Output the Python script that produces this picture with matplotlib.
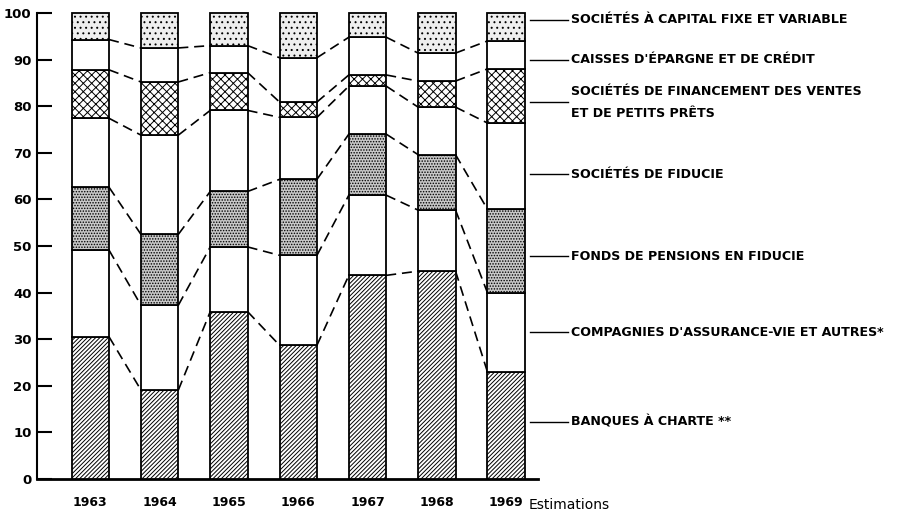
import matplotlib
matplotlib.use("Agg")
import matplotlib.pyplot as plt
import numpy as np

years = ["1963", "1964", "1965", "1966", "1967", "1968", "1969"]
categories = [
    "BANQUES À CHARTE **",
    "COMPAGNIES D'ASSURANCE-VIE ET AUTRES*",
    "FONDS DE PENSIONS EN FIDUCIE",
    "SOCIÉTÉS DE FIDUCIE",
    "SOCIÉTÉS DE FINANCEMENT DES VENTES\nET DE PETITS PRÊTS",
    "CAISSES D'ÉPARGNE ET DE CRÉDIT",
    "SOCIÉTÉS À CAPITAL FIXE ET VARIABLE",
]
banques = [30.5, 19.1, 35.9, 28.7, 43.7, 44.6, 23.0]
assurance = [18.6, 18.2, 13.9, 19.3, 17.2, 13.1, 17.0]
pensions = [13.5, 15.2, 11.9, 16.3, 13.1, 11.9, 17.9]
fiducie = [14.8, 21.3, 17.4, 13.3, 10.3, 10.2, 18.5]
financement = [10.4, 11.4, 8.1, 3.3, 2.4, 5.6, 11.6]
caisses = [6.5, 7.3, 5.8, 9.5, 8.1, 6.0, 6.0]
capital = [5.7, 7.5, 7.0, 9.6, 5.2, 8.6, 6.0]
series = [banques, assurance, pensions, fiducie, financement, caisses, capital]

# label anchor heights (layout)
label_y = [12.2, 31.5, 47.8, 65.4, 80.8, 90.0, 98.6]

styles = [
    dict(facecolor="white", hatch="////////"),
    dict(facecolor="white", hatch=None),
    dict(facecolor="#c8c8c8", hatch="......"),
    dict(facecolor="white", hatch=None),
    dict(facecolor="white", hatch="xxxx"),
    dict(facecolor="white", hatch=None),
    dict(facecolor="#eeeeee", hatch="..."),
]

plt.rcParams["hatch.linewidth"] = 0.7

fig = plt.figure(figsize=(8.99, 5.13), dpi=100)
ax = fig.add_axes([37 / 899, 1 - 479 / 513, (538 - 37) / 899, (479 - 13) / 513])

x = np.arange(len(years))
w = 0.54
bottom = np.zeros(len(years))
tops = []
for vals, st in zip(series, styles):
    vals = np.array(vals)
    ax.bar(x, vals, w, bottom=bottom, facecolor=st["facecolor"], hatch=st["hatch"],
           edgecolor="black", linewidth=1.3, zorder=3, clip_on=False)
    bottom = bottom + vals
    tops.append(bottom.copy())

# dashed connectors between bars
for t in tops[:-1]:
    for i in range(len(x) - 1):
        ax.plot([x[i] + w / 2, x[i + 1] - w / 2], [t[i], t[i + 1]],
                color="black", lw=1.2, dashes=(6, 3.5), zorder=2)

ax.set_xlim(-0.77, 6.46)
ax.set_ylim(0, 100)
ax.set_yticks(range(0, 101, 10))
ax.set_yticklabels([str(v) for v in range(0, 101, 10)], fontsize=9.5, fontweight="bold")
ax.tick_params(axis="y", direction="in", length=11, width=1.5, pad=4)
ax.set_xticks(x)
ax.set_xticklabels(years, fontsize=9, fontweight="bold")
ax.tick_params(axis="x", length=0, pad=12)
for s in ["top", "right"]:
    ax.spines[s].set_visible(False)
ax.spines["left"].set_linewidth(1.5)
ax.spines["bottom"].set_linewidth(2)

ax.text(6.32, -0.056, "Estimations", transform=ax.get_xaxis_transform(),
        fontsize=10, ha="left", va="center")

for lab, ly in zip(categories, label_y):
    ax.plot([6.35, 6.9], [ly, ly], color="black", lw=1.0, clip_on=False)
    ax.text(6.94, ly, lab, fontsize=9.1, fontweight="bold", ha="left", va="center",
            linespacing=1.85)

fig.savefig("out.png", dpi=100)
